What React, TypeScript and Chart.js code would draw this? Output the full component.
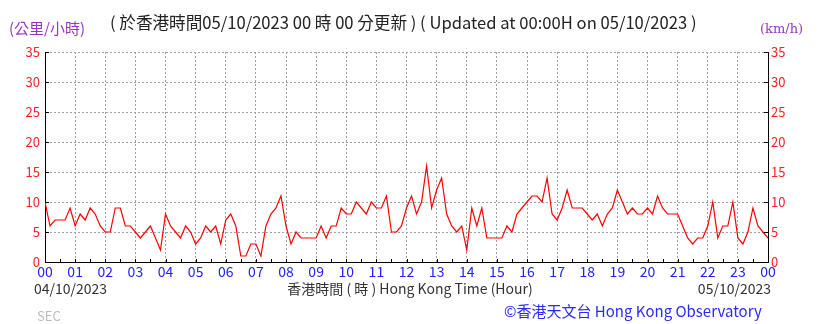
import React, { useEffect, useRef } from 'react';
import { Chart, registerables } from 'chart.js';
Chart.register(...registerables);

// 10-minute wind speed (km/h), 04/10/2023 00:00 to 05/10/2023 00:00
const windSpeed = [
  10, 6, 7, 7, 7, 9, 6, 8, 7, 9, 8, 6, 5, 5, 9, 9, 6, 6, 5, 4, 5, 6, 4, 2, 8, 6, 5, 4, 6, 5, 3, 4, 6, 5, 6, 3, 7, 8,
  6, 1, 1, 3, 3, 1, 6, 8, 9, 11, 6, 3, 5, 4, 4, 4, 4, 6, 4, 6, 6, 9, 8, 8, 10, 9, 8, 10, 9, 9, 11, 5, 5, 6,
  9, 11, 8, 10, 16, 9, 12, 14, 8, 6, 5, 6, 2, 9, 6, 9, 4, 4, 4, 4, 6, 5, 8, 9, 10, 11, 11, 10, 14, 8, 7, 9, 12, 9, 9, 9, 8, 7, 8,
  6, 8, 9, 12, 10, 8, 9, 8, 8, 9, 8, 11, 9, 8, 8, 8, 6, 4, 3, 4, 4, 6, 10, 4, 6, 6, 10, 4, 3, 5, 9, 6, 5, 4,
];
const hourLabels = ['00', '01', '02', '03', '04', '05', '06', '07', '08', '09', '10', '11', '12', '13', '14', '15', '16', '17', '18', '19', '20', '21', '22', '23', '00'];
const yTickValues = [0, 5, 10, 15, 20, 25, 30, 35];
const titleText = '( 於香港時間05/10/2023 00 時 00 分更新 ) ( Updated at 00:00H on 05/10/2023 )';
const unitLeft = '(公里/小時)';
const unitRight = '(km/h)';
const startDate = '04/10/2023';
const endDate = '05/10/2023';
const xTitle = '香港時間 ( 時 ) Hong Kong Time (Hour)';
const credit = '©香港天文台 Hong Kong Observatory';
const station = 'SEC';

const SANS = "'Noto Sans CJK TC', 'Noto Sans', sans-serif";

const overlay = {
  id: 'overlay',
  afterDraw(chart: any) {
    const { ctx, chartArea: a, scales } = chart;
    ctx.save();
    // inner tick marks
    ctx.strokeStyle = '#000';
    ctx.lineWidth = 1;
    ctx.beginPath();
    yTickValues.forEach((v) => {
      const y = Math.round(scales.y.getPixelForValue(v)) + 0.5;
      ctx.moveTo(a.left, y);
      ctx.lineTo(a.left + 4, y);
      ctx.moveTo(a.right, y);
      ctx.lineTo(a.right - 4, y);
    });
    for (let h = 0; h <= 48; h++) {
      const x = Math.round(scales.x.getPixelForValue(h * 3)) + 0.5;
      ctx.moveTo(x, a.bottom);
      ctx.lineTo(x, a.bottom - 3);
    }
    ctx.stroke();

    ctx.textBaseline = 'middle';
    ctx.font = `15px ${SANS}`;
    ctx.fillStyle = '#9933cc';
    ctx.textAlign = 'left';
    ctx.fillText(unitLeft, 9, 28);
    ctx.font = `13px 'DejaVu Serif', serif`;
    ctx.fillText(unitRight, 760, 30);

    ctx.font = `16.6px ${SANS}`;
    ctx.fillStyle = '#222';
    ctx.fillText(titleText, 110, 23);

    ctx.font = `14px ${SANS}`;
    ctx.fillStyle = '#333';
    ctx.fillText(startDate, 34, 289);
    ctx.textAlign = 'center';
    ctx.fillText(xTitle, 410, 289);
    ctx.textAlign = 'right';
    ctx.fillText(endDate, 771, 289);

    ctx.textAlign = 'left';
    ctx.fillStyle = '#bbb';
    ctx.font = `13px ${SANS}`;
    ctx.fillText(station, 37, 316);

    ctx.fillStyle = '#2a2aff';
    ctx.font = `15px ${SANS}`;
    ctx.fillText(credit, 504, 311);
    ctx.restore();
  },
};

export default function App() {
  const ref = useRef<HTMLCanvasElement>(null);
  useEffect(() => {
    if (!ref.current) return;
    const data = windSpeed.map((v, i) => ({ x: i, y: v }));
    const yTickOpts = {
      color: '#ff2020',
      font: { family: SANS, size: 13 },
      stepSize: 5,
    };
    const chart = new Chart(ref.current, {
      type: 'line',
      data: {
        datasets: [
          {
            data,
            borderColor: '#ff0000',
            borderWidth: 1.2,
            pointRadius: 0,
            tension: 0,
            fill: false,
          },
        ],
      },
      plugins: [overlay],
      options: {
        animation: false,
        responsive: false,
        maintainAspectRatio: false,
        layout: { padding: { top: 52, left: 0, right: 0, bottom: 0 } },
        plugins: { legend: { display: false }, tooltip: { enabled: false }, title: { display: false } },
        scales: {
          x: {
            type: 'linear',
            min: 0,
            max: 144,
            ticks: {
              stepSize: 6,
              autoSkip: false,
              maxRotation: 0,
              padding: 1,
              color: '#2222ff',
              font: { family: SANS, size: 14 },
              callback: (v: any) => hourLabels[Math.round(Number(v) / 6)],
            },
            grid: { color: '#a0a0a0', lineWidth: 1, drawTicks: false },
            border: { display: true, color: '#000', width: 1, dash: [2, 2] },
            afterFit: (s: any) => {
              s.height = 62;
            },
          },
          y: {
            position: 'left',
            min: 0,
            max: 35,
            ticks: { ...yTickOpts, padding: 5 },
            grid: { color: '#a0a0a0', lineWidth: 1, drawTicks: false },
            border: { display: true, color: '#000', width: 1, dash: [2, 2] },
            afterFit: (s: any) => {
              s.width = 45;
            },
          },
          y2: {
            position: 'right',
            min: 0,
            max: 35,
            ticks: { ...yTickOpts, padding: 3 },
            grid: { display: false, drawTicks: false },
            border: { display: true, color: '#000', width: 1 },
            afterFit: (s: any) => {
              s.width = 51;
            },
          },
        },
      },
    });
    return () => chart.destroy();
  }, []);
  return (
    <div style={{ position: 'fixed', left: 0, top: 0, width: 819, height: 324, background: '#fff' }}>
      <canvas ref={ref} width={819} height={324} style={{ width: 819, height: 324, display: 'block' }} />
    </div>
  );
}
